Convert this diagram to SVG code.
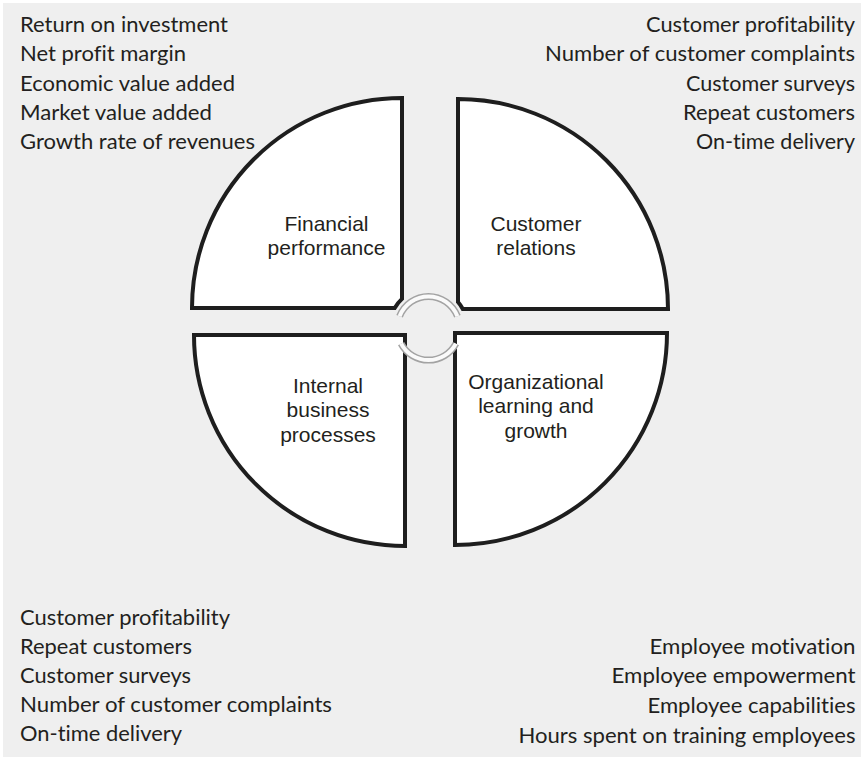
<svg xmlns="http://www.w3.org/2000/svg" width="861" height="757" viewBox="0 0 861 757">
<style>
.bg{fill:#efefef}
.q{fill:#ffffff;stroke:#1e1e1e;stroke-width:4;stroke-linejoin:miter}
.ql{font-family:"Liberation Sans",Arial,sans-serif;font-size:21px;fill:#231f20;text-anchor:middle}
.m{font-family:Lato,"Open Sans",sans-serif;font-size:21.6px;fill:#231f20;font-variant-ligatures:none}
.r{text-anchor:end}
.arcO{fill:none;stroke:#a3a3a3;stroke-width:7}
.arcI{fill:none;stroke:#fafafa;stroke-width:4}
</style>
<rect width="861" height="757" fill="#ffffff"/>
<rect class="bg" x="3" y="3" width="858" height="754"/>

<g id="financial">
<path class="q" d="M402,298.9 L402,98 A210,210 0 0 0 192,308 L394.7,308 A39,39 0 0 1 402,298.9 Z"/>
<text class="ql" x="326.5" y="231">Financial</text>
<text class="ql" x="326.5" y="255">performance</text>
</g>
<g id="customer">
<path class="q" d="M458,302 L458,99 A210,210 0 0 1 668,309 L462.8,309 A39,39 0 0 0 458,302 Z"/>
<text class="ql" x="536" y="231">Customer</text>
<text class="ql" x="536" y="255">relations</text>
</g>
<g id="internal">
<path class="q" d="M405,335 L194,335 A211,211 0 0 0 405,546 Z"/>
<text class="ql" x="328" y="392.5">Internal</text>
<text class="ql" x="328" y="417">business</text>
<text class="ql" x="328" y="442">processes</text>
</g>
<g id="learning">
<path class="q" d="M455,333 L667,333 A212,212 0 0 1 455,545 Z"/>
<text class="ql" x="536" y="388.5">Organizational</text>
<text class="ql" x="536" y="413">learning and</text>
<text class="ql" x="536" y="438">growth</text>
</g>

<g id="connectors">
<path class="arcO" d="M399.6,316.3 A31,31 0 0 1 457.4,316.3"/>
<path class="arcI" d="M399.6,316.3 A31,31 0 0 1 457.4,316.3"/>
<path class="arcO" d="M455.9,343.6 A31,31 0 0 1 401.1,343.6"/>
<path class="arcI" d="M455.9,343.6 A31,31 0 0 1 401.1,343.6"/>
</g>

<g id="financial-measures">
<text class="m" x="20" y="32" textLength="208" lengthAdjust="spacingAndGlyphs">Return on investment</text>
<text class="m" x="20" y="61" textLength="166" lengthAdjust="spacingAndGlyphs">Net profit margin</text>
<text class="m" x="20" y="90.5" textLength="215" lengthAdjust="spacingAndGlyphs">Economic value added</text>
<text class="m" x="20" y="120" textLength="192" lengthAdjust="spacingAndGlyphs">Market value added</text>
<text class="m" x="20" y="149" textLength="235" lengthAdjust="spacingAndGlyphs">Growth rate of revenues</text>
</g>
<g id="customer-measures">
<text class="m r" x="855" y="32" textLength="209" lengthAdjust="spacingAndGlyphs">Customer profitability</text>
<text class="m r" x="855" y="61" textLength="310" lengthAdjust="spacingAndGlyphs">Number of customer complaints</text>
<text class="m r" x="855" y="90.5" textLength="169" lengthAdjust="spacingAndGlyphs">Customer surveys</text>
<text class="m r" x="855" y="120" textLength="172" lengthAdjust="spacingAndGlyphs">Repeat customers</text>
<text class="m r" x="855" y="149" textLength="159" lengthAdjust="spacingAndGlyphs">On-time delivery</text>
</g>
<g id="internal-measures">
<text class="m" x="20" y="625" textLength="210" lengthAdjust="spacingAndGlyphs">Customer profitability</text>
<text class="m" x="20" y="654" textLength="172" lengthAdjust="spacingAndGlyphs">Repeat customers</text>
<text class="m" x="20" y="683" textLength="171" lengthAdjust="spacingAndGlyphs">Customer surveys</text>
<text class="m" x="20" y="712" textLength="312" lengthAdjust="spacingAndGlyphs">Number of customer complaints</text>
<text class="m" x="20" y="741" textLength="162" lengthAdjust="spacingAndGlyphs">On-time delivery</text>
</g>
<g id="learning-measures">
<text class="m r" x="855.5" y="654" textLength="206" lengthAdjust="spacingAndGlyphs">Employee motivation</text>
<text class="m r" x="855.5" y="683" textLength="244" lengthAdjust="spacingAndGlyphs">Employee empowerment</text>
<text class="m r" x="855.5" y="713" textLength="208" lengthAdjust="spacingAndGlyphs">Employee capabilities</text>
<text class="m r" x="855.5" y="742.5" textLength="337" lengthAdjust="spacingAndGlyphs">Hours spent on training employees</text>
</g>
</svg>
